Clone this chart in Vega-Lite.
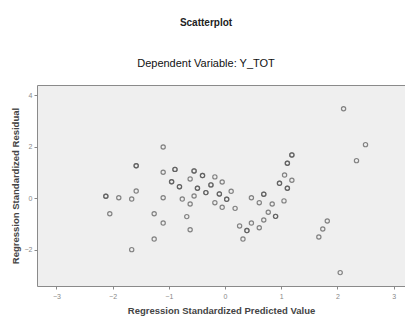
{
  "$schema": "https://vega.github.io/schema/vega-lite/v6.json",
  "autosize": "none",
  "width": 368,
  "height": 201,
  "padding": {"left": 37, "top": 85, "right": 0, "bottom": 30},
  "background": "white",
  "title": {
    "text": "Scatterplot",
    "subtitle": "Dependent Variable: Y_TOT",
    "font": "Liberation Sans",
    "fontSize": 10,
    "fontWeight": "bold",
    "color": "#222",
    "subtitleFont": "Liberation Sans",
    "subtitleFontSize": 11,
    "subtitleColor": "#111",
    "subtitlePadding": 30,
    "anchor": "middle",
    "frame": "group",
    "dx": -15,
    "offset": 16
  },
  "config": {
    "view": {"fill": "#efefef", "stroke": "#8a8a8a", "strokeWidth": 1},
    "axis": {
      "domain": false,
      "grid": false,
      "labelFont": "Liberation Sans",
      "labelFontSize": 7,
      "labelColor": "#888",
      "tickColor": "#888",
      "tickSize": 3,
      "titleFont": "Liberation Sans",
      "titleFontSize": 9.5,
      "titleFontWeight": "bold",
      "titleColor": "#444"
    }
  },
  "data": {
    "values": [
      {"pred": -2.12, "resid": 0.08}, {"pred": -2.12, "resid": 0.08},
      {"pred": -1.89, "resid": 0.02},
      {"pred": -1.66, "resid": -0.03},
      {"pred": -1.58, "resid": 0.28},
      {"pred": -1.58, "resid": 1.26}, {"pred": -1.58, "resid": 1.26},
      {"pred": -1.10, "resid": 1.99},
      {"pred": -1.10, "resid": 1.01},
      {"pred": -0.89, "resid": 1.12}, {"pred": -0.89, "resid": 1.12},
      {"pred": -0.55, "resid": 1.06}, {"pred": -0.55, "resid": 1.06},
      {"pred": -0.95, "resid": 0.64}, {"pred": -0.95, "resid": 0.64},
      {"pred": -0.81, "resid": 0.45}, {"pred": -0.81, "resid": 0.45},
      {"pred": -0.62, "resid": 0.75},
      {"pred": -0.49, "resid": 0.39}, {"pred": -0.49, "resid": 0.39},
      {"pred": -1.10, "resid": 0.02},
      {"pred": -0.76, "resid": -0.03},
      {"pred": -0.55, "resid": 0.09},
      {"pred": -0.62, "resid": -0.22},
      {"pred": -2.05, "resid": -0.60},
      {"pred": -1.26, "resid": -0.60},
      {"pred": -0.68, "resid": -0.71},
      {"pred": -1.10, "resid": -0.96},
      {"pred": -0.62, "resid": -1.22},
      {"pred": -1.26, "resid": -1.58},
      {"pred": -1.66, "resid": -1.99},
      {"pred": -0.18, "resid": -0.17},
      {"pred": -0.05, "resid": -0.35},
      {"pred": 0.18, "resid": -0.39},
      {"pred": 0.26, "resid": -1.07},
      {"pred": 0.39, "resid": -1.25}, {"pred": 0.39, "resid": -1.25},
      {"pred": 0.47, "resid": -0.96},
      {"pred": 0.32, "resid": -1.58},
      {"pred": 0.61, "resid": -1.14},
      {"pred": 0.69, "resid": -0.84},
      {"pred": 0.77, "resid": -0.54},
      {"pred": 0.84, "resid": -0.22},
      {"pred": 0.90, "resid": -0.70}, {"pred": 0.90, "resid": -0.70},
      {"pred": 0.61, "resid": -0.17},
      {"pred": 1.05, "resid": -0.10},
      {"pred": 1.67, "resid": -1.50},
      {"pred": 1.74, "resid": -1.19},
      {"pred": 1.82, "resid": -0.88},
      {"pred": 2.05, "resid": -2.88},
      {"pred": -0.40, "resid": 0.88}, {"pred": -0.40, "resid": 0.88},
      {"pred": -0.18, "resid": 0.83},
      {"pred": -0.05, "resid": 0.63},
      {"pred": -0.25, "resid": 0.52}, {"pred": -0.25, "resid": 0.52},
      {"pred": -0.34, "resid": 0.22}, {"pred": -0.34, "resid": 0.22},
      {"pred": -0.10, "resid": 0.17}, {"pred": -0.10, "resid": 0.17},
      {"pred": 0.03, "resid": -0.04}, {"pred": 0.03, "resid": -0.04},
      {"pred": 0.11, "resid": 0.27},
      {"pred": 0.47, "resid": 0.02},
      {"pred": 0.69, "resid": 0.16}, {"pred": 0.69, "resid": 0.16},
      {"pred": 0.97, "resid": 0.58}, {"pred": 0.97, "resid": 0.58},
      {"pred": 1.11, "resid": 0.39}, {"pred": 1.11, "resid": 0.39},
      {"pred": 1.19, "resid": 0.70},
      {"pred": 1.06, "resid": 0.90},
      {"pred": 1.11, "resid": 1.36}, {"pred": 1.11, "resid": 1.36},
      {"pred": 1.19, "resid": 1.68}, {"pred": 1.19, "resid": 1.68},
      {"pred": 2.11, "resid": 3.47},
      {"pred": 2.50, "resid": 2.08},
      {"pred": 2.34, "resid": 1.46}
    ]
  },
  "mark": {"type": "point", "shape": "circle", "filled": false, "size": 18, "strokeWidth": 1.2, "color": "#555", "opacity": 0.7, "clip": true},
  "encoding": {
    "x": {
      "field": "pred", "type": "quantitative",
      "scale": {"domain": [-3.345, 3.203], "nice": false, "zero": false},
      "axis": {"values": [-3, -2, -1, 0, 1, 2, 3], "title": "Regression Standardized Predicted Value", "titlePadding": 6, "labelPadding": 3}
    },
    "y": {
      "field": "resid", "type": "quantitative",
      "scale": {"domain": [-3.399, 4.391], "nice": false, "zero": false},
      "axis": {"values": [-2, 0, 2, 4], "title": "Regression Standardized Residual", "titlePadding": 4, "labelPadding": 2}
    }
  }
}
